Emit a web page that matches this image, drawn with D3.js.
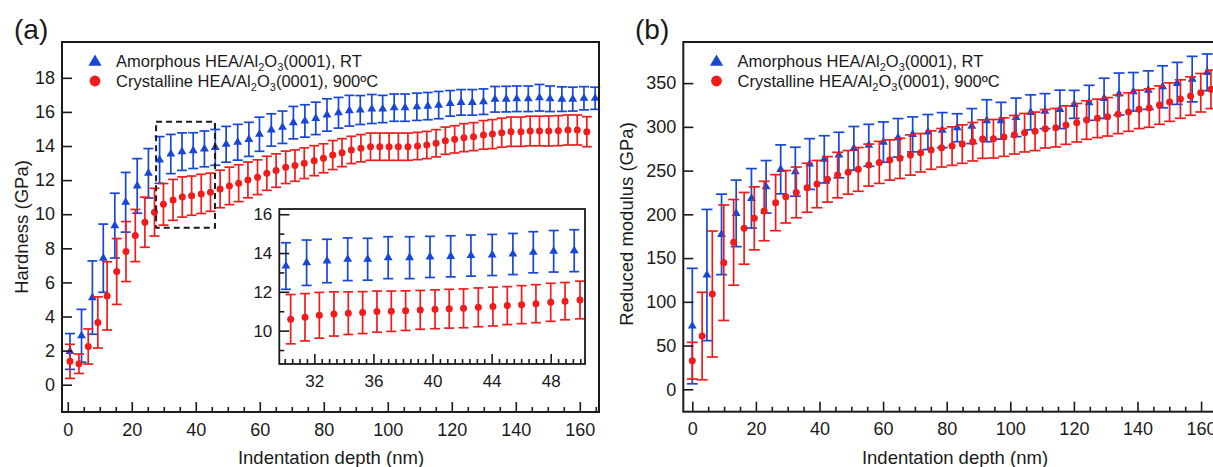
<!DOCTYPE html>
<html><head><meta charset="utf-8">
<script src="https://cdn.jsdelivr.net/npm/d3@7"></script>
<style>
html,body{margin:0;padding:0;background:#fff;}
text{font-family:"Liberation Sans",Arial,Helvetica,sans-serif;fill:#1a1a1a;}
</style></head>
<body><svg id="chart" width="1213" height="467"></svg>
<script>
// ---------- DATA ----------
const seriesNames = ["Amorphous", "Crystalline"];
const legendTail = [", RT", ", 900ºC"];
// Panel (a) hardness, amorphous (blue)
const aBlueDepth = [0.7,4.3,7.7,11.1,14.7,18.1,21.7,25.2,28.7,32.2,35.7,39.2,42.7,46.1,49.5,53.1,56.6,59.9,63.6,67.1,70.5,74.1,77.5,81.0,84.6,88.0,91.4,95.0,98.4,102.0,105.4,109.1,112.5,115.9,119.5,122.9,126.4,129.9,133.5,137.0,140.3,143.9,147.4,150.7,154.4,157.8,161.3,164.8];
const aBlueH = [1.95,2.87,5.11,7.42,9.33,10.7,11.66,12.4,13.18,13.53,13.67,13.73,13.83,13.92,14.1,14.22,14.39,14.69,14.94,15.1,15.37,15.47,15.62,15.82,15.95,16.07,16.11,16.17,16.17,16.25,16.25,16.3,16.34,16.4,16.5,16.56,16.56,16.6,16.74,16.75,16.77,16.77,16.83,16.77,16.75,16.75,16.8,16.8];
const aBlueErr = [1.05,1.55,2.15,2.0,1.9,1.75,1.6,1.45,1.37,1.15,1.1,1.05,1.05,1.05,1.05,1.05,1.0,1.0,0.95,0.95,0.95,0.95,0.95,0.95,0.9,0.9,0.85,0.85,0.8,0.8,0.8,0.8,0.8,0.8,0.75,0.75,0.75,0.75,0.75,0.75,0.75,0.75,0.78,0.75,0.72,0.7,0.68,0.65];
// Panel (a) hardness, crystalline (red)
const aRedDepth = [0.7,3.5,6.4,9.4,12.3,15.3,18.2,21.1,24.1,27.1,29.9,32.9,35.8,38.7,41.7,44.6,47.6,50.5,53.4,56.3,59.3,62.2,65.1,68.1,71.0,73.9,77.0,79.9,82.8,85.7,88.6,91.6,94.6,97.5,100.4,103.3,106.3,109.3,112.2,115.1,118.0,120.9,123.8,126.8,129.9,132.7,135.6,138.5,141.6,144.5,147.4,150.3,153.3,156.3,159.2,162.2];
const aRedH = [1.37,1.23,2.24,3.65,5.21,6.64,7.81,8.75,9.53,10.12,10.58,10.84,11.01,11.09,11.19,11.29,11.48,11.66,11.82,12.01,12.17,12.4,12.56,12.75,12.85,12.99,13.14,13.28,13.47,13.61,13.77,13.87,13.96,13.96,13.96,13.96,13.96,14.0,14.06,14.16,14.31,14.39,14.49,14.55,14.65,14.7,14.78,14.84,14.84,14.88,14.88,14.88,14.9,14.94,14.94,14.84];
const aRedErr = [1.0,0.57,1.03,1.5,2.0,1.93,1.76,1.53,1.47,1.4,1.22,1.2,1.18,1.15,1.15,1.12,1.1,1.1,1.08,1.05,1.02,1.0,0.98,0.95,0.92,0.9,0.88,0.85,0.85,0.82,0.8,0.8,0.8,0.8,0.8,0.8,0.8,0.8,0.8,0.8,0.8,0.8,0.82,0.82,0.84,0.85,0.85,0.86,0.86,0.87,0.87,0.88,0.88,0.88,0.88,0.88];
// Inset (zoom of 30-50 nm)
const iBlueDepth = [30.08,31.48,32.86,34.26,35.61,37.0,38.45,39.83,41.23,42.6,44.04,45.44,46.82,48.2,49.59];
const iBlueH = [13.33,13.5,13.59,13.68,13.68,13.76,13.76,13.8,13.83,13.87,13.9,13.95,14.04,14.09,14.12];
const iBlueErr = [1.2,1.17,1.12,1.1,1.08,1.08,1.08,1.06,1.06,1.06,1.06,1.06,1.06,1.07,1.08];
const iRedDepth = [30.4,31.37,32.34,33.33,34.3,35.27,36.24,37.21,38.18,39.17,40.17,41.13,42.1,43.1,44.09,45.06,46.03,47.0,48.0,48.97,49.98];
const iRedH = [10.59,10.69,10.79,10.86,10.9,10.93,10.98,11.0,11.03,11.07,11.1,11.13,11.15,11.2,11.24,11.29,11.34,11.39,11.46,11.52,11.58];
const iRedErr = [1.27,1.22,1.18,1.14,1.1,1.08,1.06,1.04,1.02,1.0,1.0,1.0,1.0,1.0,1.0,0.98,0.98,0.98,0.98,0.96,0.97];
// Panel (b) reduced modulus
const bBlueDepth = [0,4.6,9.2,13.8,18.6,23.2,27.8,32.4,36.9,41.5,46.1,50.8,55.5,60.1,64.7,69.3,74.1,78.6,83.3,87.9,92.6,97.1,101.8,106.4,110.9,115.6,120.1,124.8,129.5,134.2,138.7,143.4,147.9,152.5,157.2,161.9];
const bBlueE = [72.3,130.6,177.1,201.1,218.3,231.5,251.4,248.7,257.5,262.9,267.8,275.4,278.9,282.6,287.5,291.4,294.1,296.3,299,300.9,307,307,310.9,316.6,318,320,325.7,327.5,332.6,337.5,340.1,342,345.8,349.7,354.6,362.3];
const bBlueErr = [66,75,46,38,34,30,28,28,29,27,26,25,24,23,22,20,20,20,16,20,24,21,22,20,20,22,16,20,23,24,22,22,24,24,26,21];
const bRedDepth = [0,3.1,6.3,9.9,13.0,16.3,19.5,22.6,26.2,29.4,32.7,36.1,39.2,42.5,45.7,49.0,52.2,55.5,58.8,62.1,65.3,68.6,71.8,75.1,78.4,81.7,84.9,88.2,91.3,94.7,98.0,101.3,104.5,107.8,111.0,114.3,117.5,120.9,124.0,127.4,130.6,133.9,137.2,140.5,143.7,146.9,150.1,153.5,156.7,159.9,163.1];
const bRedE = [32.7,60.9,108.9,144.7,168,184,195.4,203.8,213.3,220.1,225.1,230.4,234.6,240,244.9,248,251.4,256.3,259.4,262.1,264,267.8,270.4,273.5,276.1,278,280.3,283,286,286.4,288.3,291,293.3,294.9,297.8,299,302,304.7,307.8,309.7,311.5,314.3,316.9,320,321.5,324.9,328.3,331.8,335.2,339,342.9];
const bRedErr = [21,50,72,66,49,41,36,34,32,30,29,28,27,26,26,25,25,24,24,23,23,23,22,22,22,22,22,22,22,22,22,22,22,22,22,22,22,22,22,22,22,22,22,22,22,22,22,22,22,22,22];
// Ticks
const aXTicks = [0,20,40,60,80,100,120,140,160];
const aYTicks = [0,2,4,6,8,10,12,14,16,18];
const iXTicks = [32,36,40,44,48];
const iYTicks = [10,12,14,16];
const bXTicks = [0,20,40,60,80,100,120,140,160];
const bYTicks = [0,50,100,150,200,250,300,350];
const xTitle = "Indentation depth (nm)";
const aYTitle = "Hardness (GPa)";
const bYTitle = "Reduced modulus (GPa)";

// ---------- DRAW ----------
const BLUE = "#1747d6", RED = "#f01c1c", INK = "#1a1a1a";
const svg = d3.select("#chart");
const zip = (x, y, e) => x.map((d, i) => ({x: d, y: y[i], e: e[i]})).filter(d => d.y != null && d.e != null);

function drawSeries(g, data, xs, ys, color, shape, cap) {
  const s = g.append("g");
  data.forEach(d => {
    const cx = xs(d.x), y1 = ys(d.y + d.e), y2 = ys(d.y - d.e);
    s.append("line").attr("x1", cx).attr("x2", cx).attr("y1", y1).attr("y2", y2)
      .attr("stroke", color).attr("stroke-width", 1.7);
    [y1, y2].forEach(yy => s.append("line").attr("x1", cx - cap/2).attr("x2", cx + cap/2)
      .attr("y1", yy).attr("y2", yy).attr("stroke", color).attr("stroke-width", 1.7));
  });
  data.forEach(d => {
    const cx = xs(d.x), cy = ys(d.y);
    if (shape === "tri") {
      s.append("path").attr("d", d3.symbol(d3.symbolTriangle, 34)()).attr("transform", `translate(${cx},${cy})`).attr("fill", color);
    } else {
      s.append("circle").attr("cx", cx).attr("cy", cy).attr("r", 3.5).attr("fill", color);
    }
  });
}

function axes(g, xs, ys, xT, yT, xMinorStep, yMinorStep, fs, sw) {
  const [x0, x1] = xs.range(), [y0, y1] = ys.range();
  if (xMinorStep) {
    const xm = d3.range(Math.ceil(xs.domain()[0] / xMinorStep) * xMinorStep, xs.domain()[1], xMinorStep)
      .filter(v => !xT.some(t => Math.abs(t - v) < 1e-6));
    g.append("g").attr("transform", `translate(0,${y0})`)
      .call(d3.axisBottom(xs).tickValues(xm).tickSize(-5).tickSizeOuter(0).tickFormat(""))
      .call(a => a.select(".domain").remove())
      .call(a => a.selectAll("line").attr("stroke", INK).attr("stroke-width", 1.6));
  }
  if (yMinorStep) {
    const ym = d3.range(Math.ceil(ys.domain()[0] / yMinorStep) * yMinorStep, ys.domain()[1], yMinorStep)
      .filter(v => !yT.some(t => Math.abs(t - v) < 1e-6));
    g.append("g").attr("transform", `translate(${x0},0)`)
      .call(d3.axisLeft(ys).tickValues(ym).tickSize(-5).tickSizeOuter(0).tickFormat(""))
      .call(a => a.select(".domain").remove())
      .call(a => a.selectAll("line").attr("stroke", INK).attr("stroke-width", 1.6));
  }
  g.append("g").attr("transform", `translate(0,${y0})`)
    .call(d3.axisBottom(xs).tickValues(xT).tickSize(-10).tickSizeOuter(0).tickPadding(11))
    .call(a => a.select(".domain").remove())
    .call(a => a.selectAll("line").attr("stroke", INK).attr("stroke-width", 1.6))
    .call(a => a.selectAll("text").attr("font-size", fs).style("fill", INK).attr("font-family", "Liberation Sans, Arial, sans-serif"));
  g.append("g").attr("transform", `translate(${x0},0)`)
    .call(d3.axisLeft(ys).tickValues(yT).tickSize(-10).tickSizeOuter(0).tickPadding(7))
    .call(a => a.select(".domain").remove())
    .call(a => a.selectAll("line").attr("stroke", INK).attr("stroke-width", 1.6))
    .call(a => a.selectAll("text").attr("font-size", fs).style("fill", INK).attr("font-family", "Liberation Sans, Arial, sans-serif"));
  g.append("rect").attr("x", x0).attr("y", y1).attr("width", x1 - x0).attr("height", y0 - y1)
    .attr("fill", "none").attr("stroke", INK).attr("stroke-width", sw);
}

function legend(g, x, y) {
  const rows = [{c: BLUE, s: "tri"}, {c: RED, s: "circ"}];
  rows.forEach((r, i) => {
    const cy = y + i * 20;
    if (r.s === "tri") g.append("path").attr("d", d3.symbol(d3.symbolTriangle, 75)()).attr("transform", `translate(${x},${cy + 1})`).attr("fill", r.c);
    else g.append("circle").attr("cx", x).attr("cy", cy).attr("r", 5.4).attr("fill", r.c);
    const t = g.append("text").attr("x", x + 21).attr("y", cy + 5.5).attr("font-size", 16.5);
    t.append("tspan").text(seriesNames[i] + " HEA/Al");
    t.append("tspan").attr("font-size", 11).attr("dy", 4).text("2");
    t.append("tspan").attr("dy", -4).text("O");
    t.append("tspan").attr("font-size", 11).attr("dy", 4).text("3");
    t.append("tspan").attr("dy", -4).text("(0001)" + legendTail[i]);
  });
}

// Panel (a)
const xA = d3.scaleLinear().domain([-1.8, 166]).range([62, 599]);
const yA = d3.scaleLinear().domain([-1.6, 20.1]).range([412, 42]);
const gA = svg.append("g");
drawSeries(gA, zip(aBlueDepth, aBlueH, aBlueErr), xA, yA, BLUE, "tri", 10);
drawSeries(gA, zip(aRedDepth, aRedH, aRedErr), xA, yA, RED, "circ", 10);
axes(gA, xA, yA, aXTicks, aYTicks, 5, null, 18, 2);
legend(gA, 95, 61);
gA.append("rect").attr("x", xA(27.6)).attr("y", yA(15.42)).attr("width", xA(46.0) - xA(27.6)).attr("height", yA(9.21) - yA(15.42))
  .attr("fill", "none").attr("stroke", INK).attr("stroke-width", 2).attr("stroke-dasharray", "6,4");
// Inset
const xI = d3.scaleLinear().domain([29.63, 50.32]).range([279.3, 585]);
const yI = d3.scaleLinear().domain([8.28, 16.27]).range([364, 209]);
const gI = svg.append("g");
gI.append("rect").attr("x", 279.3).attr("y", 209).attr("width", 585 - 279.3).attr("height", 155).attr("fill", "#fff");
drawSeries(gI, zip(iBlueDepth, iBlueH, iBlueErr), xI, yI, BLUE, "tri", 10);
drawSeries(gI, zip(iRedDepth, iRedH, iRedErr), xI, yI, RED, "circ", 10);
axes(gI, xI, yI, iXTicks, iYTicks, 0.5, 1, 17, 1.8);
gA.append("text").attr("x", 14).attr("y", 39).attr("font-size", 28).text("(a)");
gA.append("text").attr("text-anchor", "middle").attr("x", 331).attr("y", 464).attr("font-size", 18.5).text(xTitle);
gA.append("text").attr("text-anchor", "middle").attr("transform", "translate(28,227) rotate(-90)").attr("font-size", 18.5).text(aYTitle);

// Panel (b)
const xB = d3.scaleLinear().domain([-2.83, 166.2]).range([683.3, 1220.8]);
const yB = d3.scaleLinear().domain([-25.6, 397]).range([411.7, 42]);
const gB = svg.append("g");
drawSeries(gB, zip(bBlueDepth, bBlueE, bBlueErr), xB, yB, BLUE, "tri", 11);
drawSeries(gB, zip(bRedDepth, bRedE, bRedErr), xB, yB, RED, "circ", 11);
axes(gB, xB, yB, bXTicks, bYTicks, 5, null, 18, 2);
legend(gB, 716.5, 61);
gB.append("text").attr("x", 635).attr("y", 39).attr("font-size", 28).text("(b)");
gB.append("text").attr("text-anchor", "middle").attr("x", 955).attr("y", 464).attr("font-size", 18.5).text(xTitle);
gB.append("text").attr("text-anchor", "middle").attr("transform", "translate(633,224) rotate(-90)").attr("font-size", 18.5).text(bYTitle);
</script></body></html>
